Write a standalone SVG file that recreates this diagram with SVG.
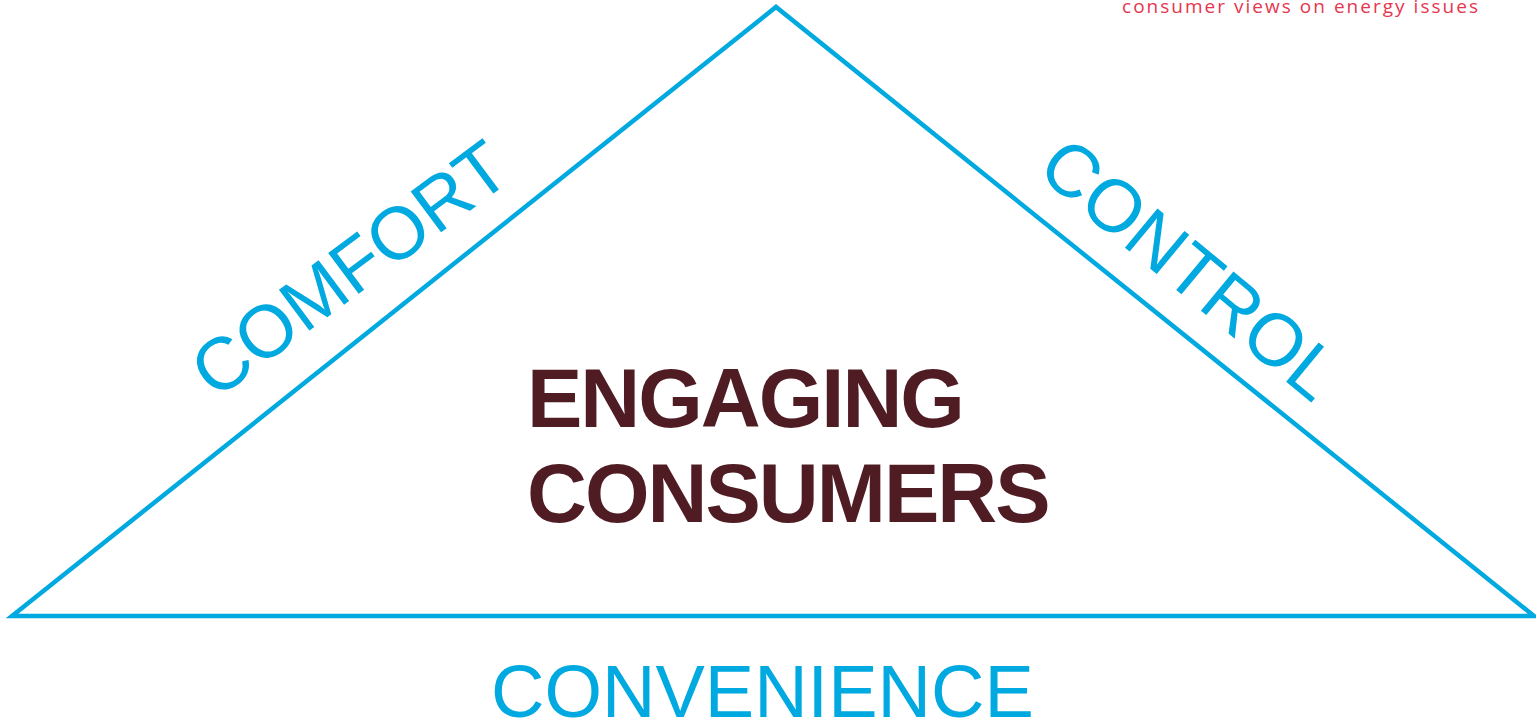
<svg xmlns="http://www.w3.org/2000/svg" width="1536" height="723" viewBox="0 0 1536 723">
<style>
.side{fill:#00A9E0;font-family:"Liberation Sans",Arial,sans-serif;font-size:74px}
.main{fill:#4F1C24;font-family:"Liberation Sans",Arial,sans-serif;font-size:83px;font-weight:bold;letter-spacing:-2px}
.tag{fill:#E8364F;font-family:"Open Sans","DejaVu Sans",sans-serif;font-size:19px}
</style>
<rect width="1536" height="723" fill="#fff"/>
<g id="connectors">
<polygon points="12,616 776,7 1534,616" fill="none" stroke="#00A9E0" stroke-width="4.5" stroke-linejoin="miter"/>
</g>
<g id="tagline"><text class="tag" x="1122" y="13" textLength="356" lengthAdjust="spacing">consumer views on energy issues</text></g>
<g id="comfort"><text class="side" text-anchor="middle" transform="translate(349,268) rotate(-36.7)" x="0" y="26.5">COMFORT</text></g>
<g id="control"><text class="side" text-anchor="middle" transform="translate(1191,268) rotate(39.7)" x="0" y="26.5">CONTROL</text></g>
<g id="convenience"><text class="side" x="491" y="717">CONVENIENCE</text></g>
<g id="center"><text class="main" x="527" y="427">ENGAGING</text><text class="main" x="527" y="522">CONSUMERS</text></g>
</svg>
